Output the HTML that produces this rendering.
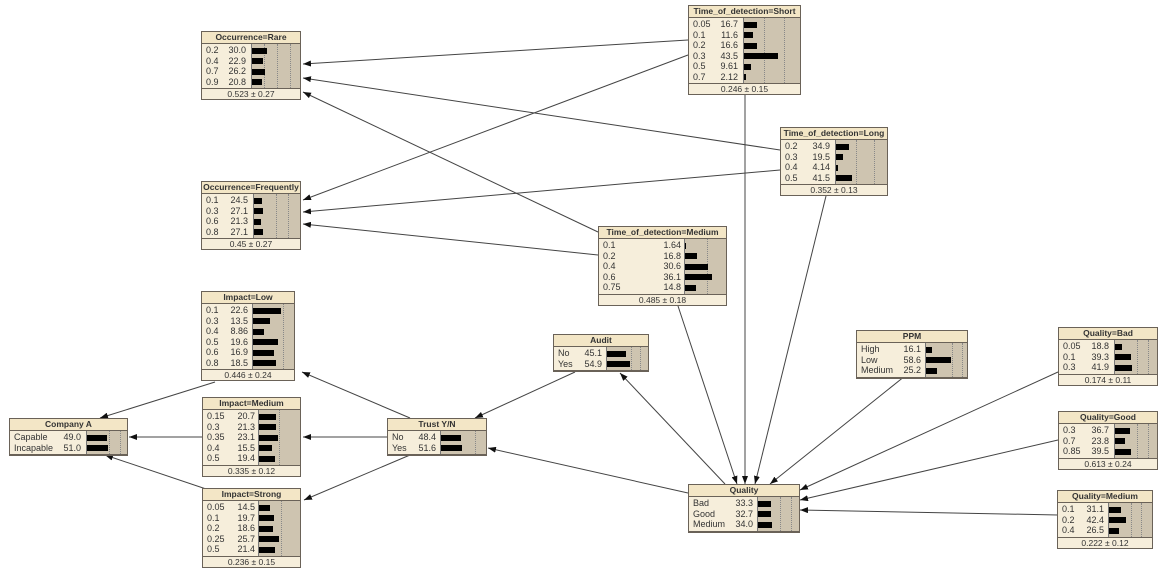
<!DOCTYPE html>
<html><head><meta charset="utf-8"><style>
body{margin:0;width:1164px;height:572px;background:#fff;position:relative;overflow:hidden;font-family:"Liberation Sans",sans-serif;}
svg{position:absolute;left:0;top:0}
.n{position:absolute;border:1px solid #6a6258;background:#f6eedb;font-size:9px;color:#333;box-sizing:border-box}
.t{height:11px;line-height:11px;text-align:center;font-weight:bold;font-size:8.5px;border-bottom:1px solid #6a6258;background:#f3e6c6;white-space:nowrap;overflow:hidden}
.b{position:relative;border-bottom:1px solid #6a6258;padding:1px 0}
.r{height:10.5px;line-height:10.5px;position:relative}
.l{position:absolute;left:4px}
.v{position:absolute;text-align:right}
.ba{position:absolute;top:0;bottom:0;background:#cec4b0;border-left:1px solid #777}
.ba i{position:absolute;top:0;bottom:0;border-left:1px dotted #888}
.bar{position:absolute;height:6px;top:2.5px;background:#000}
.f{height:10px;line-height:10px;text-align:center;font-size:8.5px}
</style></head><body>
<svg width="1164" height="572">
<defs><marker id="a" markerWidth="8" markerHeight="6" refX="8" refY="3" orient="auto" markerUnits="userSpaceOnUse"><path d="M0,0L8,3L0,6z" fill="#111"/></marker></defs>
<g stroke="#444" stroke-width="1" fill="none" marker-end="url(#a)">
<line x1="688" y1="40" x2="303" y2="64"/>
<line x1="688" y1="55" x2="303" y2="200"/>
<line x1="780" y1="150" x2="303" y2="78"/>
<line x1="780" y1="170" x2="303" y2="212"/>
<line x1="598" y1="232" x2="303" y2="92"/>
<line x1="598" y1="255" x2="303" y2="224"/>
<line x1="745" y1="95" x2="745" y2="484"/>
<line x1="826" y1="196" x2="755" y2="484"/>
<line x1="678" y1="306" x2="737" y2="484"/>
<line x1="725" y1="484" x2="620" y2="373"/>
<line x1="905" y1="376" x2="770" y2="484"/>
<line x1="1058" y1="372" x2="800" y2="490"/>
<line x1="1058" y1="440" x2="800" y2="500"/>
<line x1="1058" y1="515" x2="800" y2="510"/>
<line x1="688" y1="493" x2="488" y2="448"/>
<line x1="575" y1="372" x2="475" y2="418"/>
<line x1="410" y1="418" x2="302" y2="372"/>
<line x1="387" y1="437" x2="303" y2="437"/>
<line x1="410" y1="455" x2="304" y2="500"/>
<line x1="215" y1="382" x2="100" y2="418"/>
<line x1="202" y1="437" x2="129" y2="437"/>
<line x1="215" y1="492" x2="105" y2="455"/>
</g></svg>

<div class="n" style="left:201px;top:31px;width:100px"><div class="t">Occurrence=Rare</div>
<div class="b"><div class="ba" style="left:49px;right:0"><i style="left:12px"></i><i style="left:25px"></i><i style="left:38px"></i></div>
<div class="r"><span class="l">0.2</span><span class="v" style="right:54px">30.0</span><span class="bar" style="left:50px;width:15px"></span></div>
<div class="r"><span class="l">0.4</span><span class="v" style="right:54px">22.9</span><span class="bar" style="left:50px;width:11px"></span></div>
<div class="r"><span class="l">0.7</span><span class="v" style="right:54px">26.2</span><span class="bar" style="left:50px;width:13px"></span></div>
<div class="r"><span class="l">0.9</span><span class="v" style="right:54px">20.8</span><span class="bar" style="left:50px;width:10px"></span></div>
</div><div class="f">0.523 ± 0.27</div></div>

<div class="n" style="left:688px;top:5px;width:113px"><div class="t">Time_of_detection=Short</div>
<div class="b"><div class="ba" style="left:54px;right:0"><i style="left:20px"></i><i style="left:40px"></i></div>
<div class="r"><span class="l">0.05</span><span class="v" style="right:62px">16.7</span><span class="bar" style="left:55px;width:13px"></span></div>
<div class="r"><span class="l">0.1</span><span class="v" style="right:62px">11.6</span><span class="bar" style="left:55px;width:9px"></span></div>
<div class="r"><span class="l">0.2</span><span class="v" style="right:62px">16.6</span><span class="bar" style="left:55px;width:13px"></span></div>
<div class="r"><span class="l">0.3</span><span class="v" style="right:62px">43.5</span><span class="bar" style="left:55px;width:34px"></span></div>
<div class="r"><span class="l">0.5</span><span class="v" style="right:62px">9.61</span><span class="bar" style="left:55px;width:7px"></span></div>
<div class="r"><span class="l">0.7</span><span class="v" style="right:62px">2.12</span><span class="bar" style="left:55px;width:2px"></span></div>
</div><div class="f">0.246 ± 0.15</div></div>

<div class="n" style="left:780px;top:127px;width:108px"><div class="t">Time_of_detection=Long</div>
<div class="b"><div class="ba" style="left:54px;right:0"><i style="left:20px"></i><i style="left:38px"></i></div>
<div class="r"><span class="l">0.2</span><span class="v" style="right:57px">34.9</span><span class="bar" style="left:55px;width:13px"></span></div>
<div class="r"><span class="l">0.3</span><span class="v" style="right:57px">19.5</span><span class="bar" style="left:55px;width:7px"></span></div>
<div class="r"><span class="l">0.4</span><span class="v" style="right:57px">4.14</span><span class="bar" style="left:55px;width:2px"></span></div>
<div class="r"><span class="l">0.5</span><span class="v" style="right:57px">41.5</span><span class="bar" style="left:55px;width:16px"></span></div>
</div><div class="f">0.352 ± 0.13</div></div>

<div class="n" style="left:201px;top:181px;width:100px"><div class="t">Occurrence=Frequently</div>
<div class="b"><div class="ba" style="left:51px;right:0"><i style="left:22px"></i><i style="left:34px"></i></div>
<div class="r"><span class="l">0.1</span><span class="v" style="right:52px">24.5</span><span class="bar" style="left:52px;width:8px"></span></div>
<div class="r"><span class="l">0.3</span><span class="v" style="right:52px">27.1</span><span class="bar" style="left:52px;width:9px"></span></div>
<div class="r"><span class="l">0.6</span><span class="v" style="right:52px">21.3</span><span class="bar" style="left:52px;width:7px"></span></div>
<div class="r"><span class="l">0.8</span><span class="v" style="right:52px">27.1</span><span class="bar" style="left:52px;width:9px"></span></div>
</div><div class="f">0.45 ± 0.27</div></div>

<div class="n" style="left:598px;top:226px;width:129px"><div class="t">Time_of_detection=Medium</div>
<div class="b"><div class="ba" style="left:85px;right:0"><i style="left:22px"></i></div>
<div class="r"><span class="l">0.1</span><span class="v" style="right:45px">1.64</span><span class="bar" style="left:86px;width:1px"></span></div>
<div class="r"><span class="l">0.2</span><span class="v" style="right:45px">16.8</span><span class="bar" style="left:86px;width:12px"></span></div>
<div class="r"><span class="l">0.4</span><span class="v" style="right:45px">30.6</span><span class="bar" style="left:86px;width:23px"></span></div>
<div class="r"><span class="l">0.6</span><span class="v" style="right:45px">36.1</span><span class="bar" style="left:86px;width:27px"></span></div>
<div class="r"><span class="l">0.75</span><span class="v" style="right:45px">14.8</span><span class="bar" style="left:86px;width:11px"></span></div>
</div><div class="f">0.485 ± 0.18</div></div>

<div class="n" style="left:201px;top:291px;width:94px"><div class="t">Impact=Low</div>
<div class="b"><div class="ba" style="left:50px;right:0"><i style="left:30px"></i></div>
<div class="r"><span class="l">0.1</span><span class="v" style="right:46px">22.6</span><span class="bar" style="left:51px;width:28px"></span></div>
<div class="r"><span class="l">0.3</span><span class="v" style="right:46px">13.5</span><span class="bar" style="left:51px;width:17px"></span></div>
<div class="r"><span class="l">0.4</span><span class="v" style="right:46px">8.86</span><span class="bar" style="left:51px;width:11px"></span></div>
<div class="r"><span class="l">0.5</span><span class="v" style="right:46px">19.6</span><span class="bar" style="left:51px;width:25px"></span></div>
<div class="r"><span class="l">0.6</span><span class="v" style="right:46px">16.9</span><span class="bar" style="left:51px;width:21px"></span></div>
<div class="r"><span class="l">0.8</span><span class="v" style="right:46px">18.5</span><span class="bar" style="left:51px;width:23px"></span></div>
</div><div class="f">0.446 ± 0.24</div></div>

<div class="n" style="left:553px;top:334px;width:96px"><div class="t">Audit</div>
<div class="b"><div class="ba" style="left:52px;right:0"><i style="left:24px"></i><i style="left:33px"></i></div>
<div class="r"><span class="l">No</span><span class="v" style="right:46px">45.1</span><span class="bar" style="left:53px;width:19px"></span></div>
<div class="r"><span class="l">Yes</span><span class="v" style="right:46px">54.9</span><span class="bar" style="left:53px;width:23px"></span></div>
</div></div>

<div class="n" style="left:856px;top:330px;width:112px"><div class="t">PPM</div>
<div class="b"><div class="ba" style="left:68px;right:0"><i style="left:26px"></i><i style="left:36px"></i></div>
<div class="r"><span class="l">High</span><span class="v" style="right:46px">16.1</span><span class="bar" style="left:69px;width:6px"></span></div>
<div class="r"><span class="l">Low</span><span class="v" style="right:46px">58.6</span><span class="bar" style="left:69px;width:25px"></span></div>
<div class="r"><span class="l">Medium</span><span class="v" style="right:46px">25.2</span><span class="bar" style="left:69px;width:11px"></span></div>
</div></div>

<div class="n" style="left:1058px;top:327px;width:100px"><div class="t">Quality=Bad</div>
<div class="b"><div class="ba" style="left:55px;right:0"><i style="left:22px"></i><i style="left:33px"></i></div>
<div class="r"><span class="l">0.05</span><span class="v" style="right:48px">18.8</span><span class="bar" style="left:56px;width:7px"></span></div>
<div class="r"><span class="l">0.1</span><span class="v" style="right:48px">39.3</span><span class="bar" style="left:56px;width:16px"></span></div>
<div class="r"><span class="l">0.3</span><span class="v" style="right:48px">41.9</span><span class="bar" style="left:56px;width:17px"></span></div>
</div><div class="f">0.174 ± 0.11</div></div>

<div class="n" style="left:9px;top:418px;width:119px"><div class="t">Company A</div>
<div class="b"><div class="ba" style="left:76px;right:0"><i style="left:22px"></i><i style="left:33px"></i></div>
<div class="r"><span class="l">Capable</span><span class="v" style="right:46px">49.0</span><span class="bar" style="left:77px;width:20px"></span></div>
<div class="r"><span class="l">Incapable</span><span class="v" style="right:46px">51.0</span><span class="bar" style="left:77px;width:21px"></span></div>
</div></div>

<div class="n" style="left:202px;top:397px;width:99px"><div class="t">Impact=Medium</div>
<div class="b"><div class="ba" style="left:55px;right:0"><i style="left:20px"></i></div>
<div class="r"><span class="l">0.15</span><span class="v" style="right:45px">20.7</span><span class="bar" style="left:56px;width:17px"></span></div>
<div class="r"><span class="l">0.3</span><span class="v" style="right:45px">21.3</span><span class="bar" style="left:56px;width:17px"></span></div>
<div class="r"><span class="l">0.35</span><span class="v" style="right:45px">23.1</span><span class="bar" style="left:56px;width:19px"></span></div>
<div class="r"><span class="l">0.4</span><span class="v" style="right:45px">15.5</span><span class="bar" style="left:56px;width:13px"></span></div>
<div class="r"><span class="l">0.5</span><span class="v" style="right:45px">19.4</span><span class="bar" style="left:56px;width:16px"></span></div>
</div><div class="f">0.335 ± 0.12</div></div>

<div class="n" style="left:387px;top:418px;width:100px"><div class="t">Trust Y/N</div>
<div class="b"><div class="ba" style="left:52px;right:0"><i style="left:34px"></i></div>
<div class="r"><span class="l">No</span><span class="v" style="right:50px">48.4</span><span class="bar" style="left:53px;width:20px"></span></div>
<div class="r"><span class="l">Yes</span><span class="v" style="right:50px">51.6</span><span class="bar" style="left:53px;width:21px"></span></div>
</div></div>

<div class="n" style="left:1058px;top:411px;width:100px"><div class="t">Quality=Good</div>
<div class="b"><div class="ba" style="left:55px;right:0"><i style="left:22px"></i><i style="left:33px"></i></div>
<div class="r"><span class="l">0.3</span><span class="v" style="right:48px">36.7</span><span class="bar" style="left:56px;width:15px"></span></div>
<div class="r"><span class="l">0.7</span><span class="v" style="right:48px">23.8</span><span class="bar" style="left:56px;width:10px"></span></div>
<div class="r"><span class="l">0.85</span><span class="v" style="right:48px">39.5</span><span class="bar" style="left:56px;width:16px"></span></div>
</div><div class="f">0.613 ± 0.24</div></div>

<div class="n" style="left:202px;top:488px;width:99px"><div class="t">Impact=Strong</div>
<div class="b"><div class="ba" style="left:55px;right:0"><i style="left:22px"></i></div>
<div class="r"><span class="l">0.05</span><span class="v" style="right:45px">14.5</span><span class="bar" style="left:56px;width:11px"></span></div>
<div class="r"><span class="l">0.1</span><span class="v" style="right:45px">19.7</span><span class="bar" style="left:56px;width:15px"></span></div>
<div class="r"><span class="l">0.2</span><span class="v" style="right:45px">18.6</span><span class="bar" style="left:56px;width:14px"></span></div>
<div class="r"><span class="l">0.25</span><span class="v" style="right:45px">25.7</span><span class="bar" style="left:56px;width:20px"></span></div>
<div class="r"><span class="l">0.5</span><span class="v" style="right:45px">21.4</span><span class="bar" style="left:56px;width:16px"></span></div>
</div><div class="f">0.236 ± 0.15</div></div>

<div class="n" style="left:688px;top:484px;width:112px"><div class="t">Quality</div>
<div class="b"><div class="ba" style="left:68px;right:0"><i style="left:22px"></i><i style="left:33px"></i></div>
<div class="r"><span class="l">Bad</span><span class="v" style="right:46px">33.3</span><span class="bar" style="left:69px;width:13px"></span></div>
<div class="r"><span class="l">Good</span><span class="v" style="right:46px">32.7</span><span class="bar" style="left:69px;width:13px"></span></div>
<div class="r"><span class="l">Medium</span><span class="v" style="right:46px">34.0</span><span class="bar" style="left:69px;width:14px"></span></div>
</div></div>

<div class="n" style="left:1057px;top:490px;width:96px"><div class="t">Quality=Medium</div>
<div class="b"><div class="ba" style="left:50px;right:0"><i style="left:22px"></i><i style="left:32px"></i></div>
<div class="r"><span class="l">0.1</span><span class="v" style="right:48px">31.1</span><span class="bar" style="left:51px;width:12px"></span></div>
<div class="r"><span class="l">0.2</span><span class="v" style="right:48px">42.4</span><span class="bar" style="left:51px;width:17px"></span></div>
<div class="r"><span class="l">0.4</span><span class="v" style="right:48px">26.5</span><span class="bar" style="left:51px;width:10px"></span></div>
</div><div class="f">0.222 ± 0.12</div></div>

</body></html>
